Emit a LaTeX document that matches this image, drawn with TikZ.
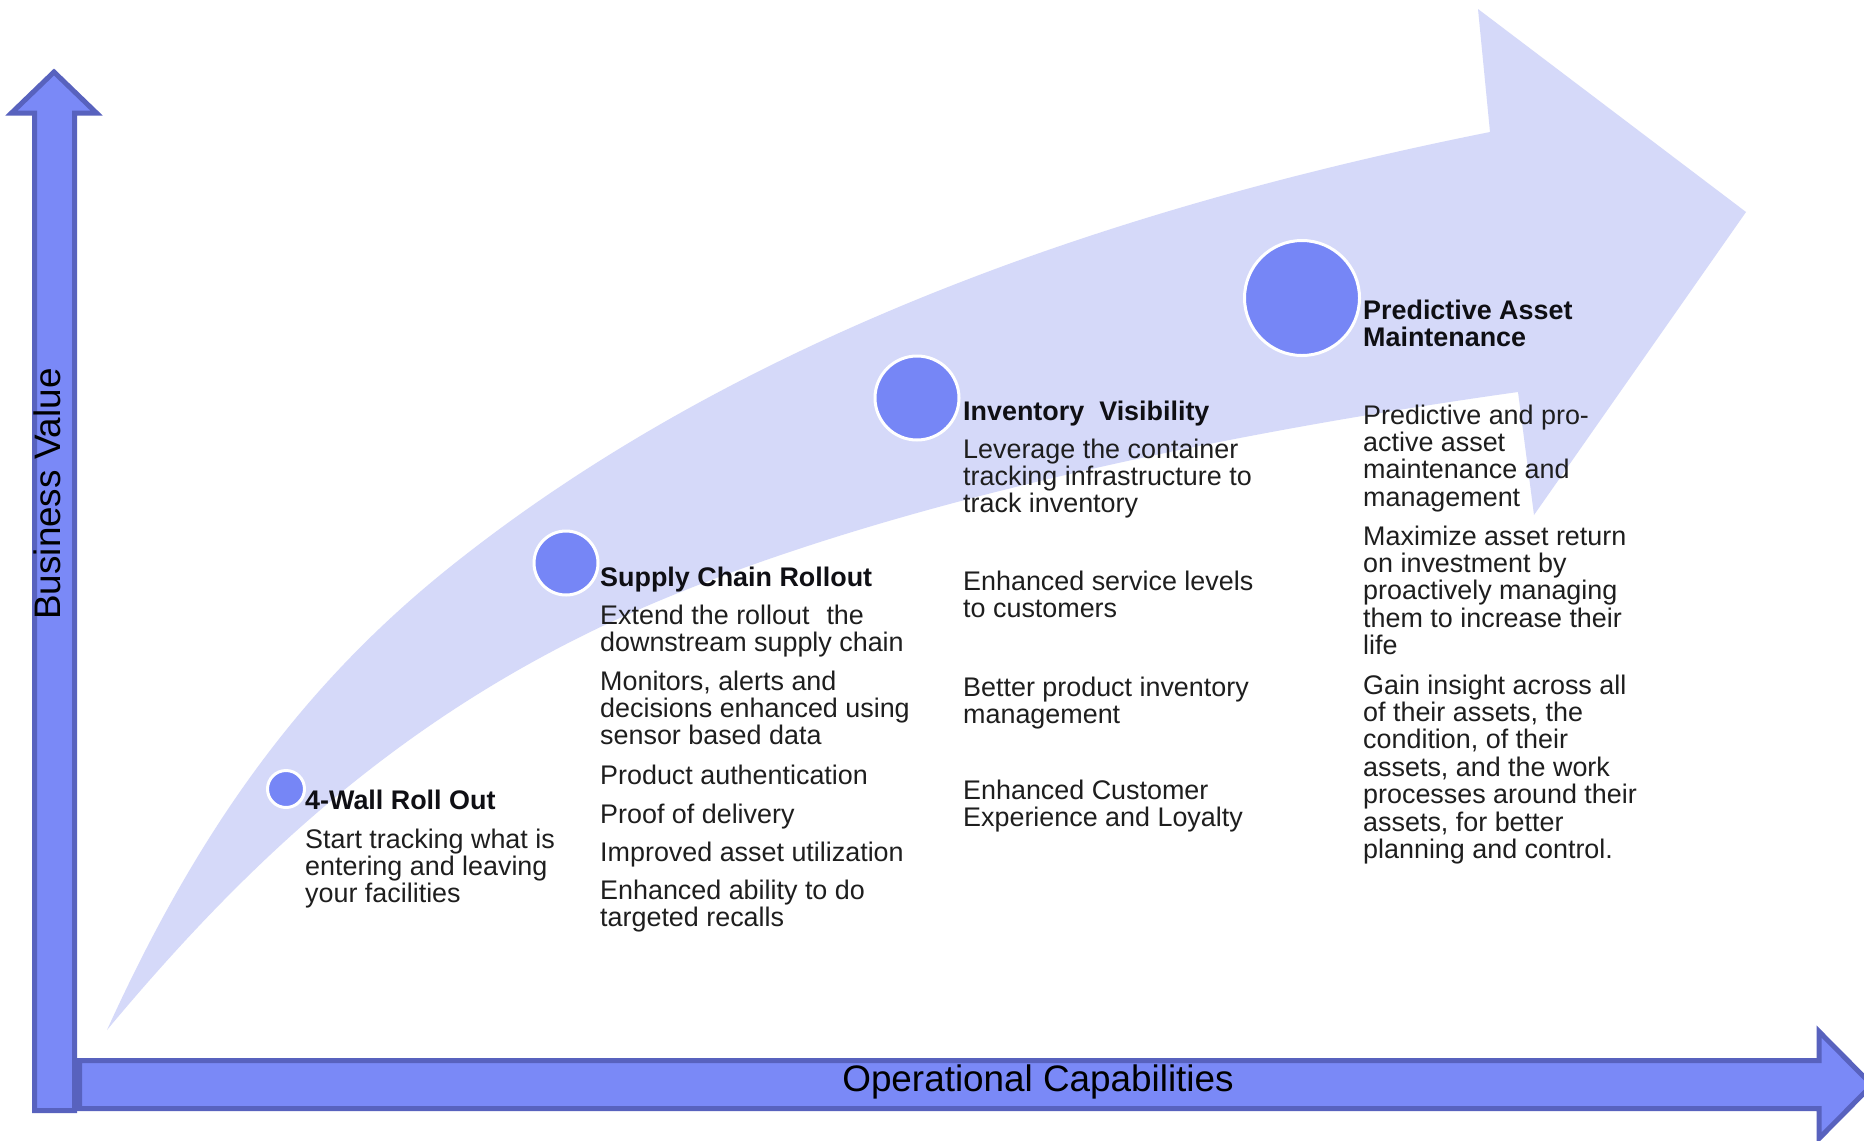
\documentclass[tikz,border=0pt]{standalone}
\usepackage{fontspec}
\setmainfont{Liberation Sans}
\definecolor{lavfill}{RGB}{213,217,249}
\definecolor{dotfill}{RGB}{118,134,246}
\definecolor{axisfill}{RGB}{122,137,247}
\definecolor{axisline}{RGB}{88,98,190}
\definecolor{bodytext}{RGB}{30,30,30}
\definecolor{headtext}{RGB}{15,15,20}
\newcommand\firststrut{\rule{0pt}{20pt}}
\tikzset{
  bigarrow/.style={fill=lavfill},
  axisarrow/.style={fill=axisfill, draw=axisline, line width=5bp, line join=miter},
  milestone/.style={circle, fill=dotfill, draw=white, line width=3bp, inner sep=0pt},
  body/.style={anchor=north west, inner sep=0pt, align=left, text=bodytext,
    font=\fontsize{27}{27.5}\selectfont},
  heading/.style={anchor=north west, inner sep=0pt, align=left, text=headtext,
    font=\fontsize{27}{27.5}\selectfont\bfseries},
  axislabel/.style={inner sep=0pt, text=black, font=\fontsize{37}{40}\selectfont},
}
\begin{document}
\begin{tikzpicture}[x=1bp,y=-1bp]
\useasboundingbox (0,0) rectangle (1864,1140);
\fill[white] (0,0) rectangle (1864,1140);
\clip (0,0) rectangle (1864,1140);

% big curved arrow
\coordinate (tail) at (107,1030);
\coordinate (umid) at (450,567);
\coordinate (utop) at (1490,132);
\coordinate (hdtop) at (1478,9);
\coordinate (hdtip) at (1746,212);
\coordinate (hdbot) at (1534,515);
\coordinate (lbot) at (1518,392);
\coordinate (lmid) at (580,637);
\fill[bigarrow]
  (tail) .. controls (197,832) and (300,687) .. (umid)
         .. controls (750,327) and (1140,202) .. (utop)
  -- (hdtop) -- (hdtip) -- (hdbot) -- (lbot)
         .. controls (1218,434) and (830,512) .. (lmid)
         .. controls (380,737) and (237,874) .. (tail)
  -- cycle;

% axes
\draw[axisarrow] (34.5,1110.5) -- (34.5,113) -- (11.5,113) -- (54,72) -- (96.5,113) -- (74.5,113) -- (74.5,1110.5) -- cycle;
\draw[axisarrow] (79.5,1060.5) -- (1819,1060.5) -- (1819,1031.5) -- (1872,1085) -- (1819,1138.5) -- (1819,1108.5) -- (79.5,1108.5) -- cycle;
\node[axislabel] (xlabel) at (1038,1082) {Operational Capabilities};
\node[axislabel, rotate=90] (ylabel) at (47,494) {Business Value};

% milestones
\node[milestone, minimum size=37bp] (m1) at (286,789) {};
\node[milestone, minimum size=64bp] (m2) at (566,563) {};
\node[milestone, minimum size=84bp] (m3) at (917,398) {};
\node[milestone, minimum size=115bp] (m4) at (1302,298) {};

% block 1
\node[heading] (h1) at (305,789) {\firststrut 4-Wall Roll Out};
\node[body] (p1) at (305,828) {\firststrut Start tracking what is\\entering and leaving\\your facilities};

% block 2
\node[heading] (h2) at (600,566) {\firststrut Supply Chain Rollout};
\node[body] (p2a) at (600,604) {\firststrut Extend the rollout\hspace{17bp}the\\downstream supply chain};
\node[body] (p2b) at (600,670) {\firststrut Monitors, alerts and\\decisions enhanced using\\sensor based data};
\node[body] (p2c) at (600,764) {\firststrut Product authentication};
\node[body] (p2d) at (600,803) {\firststrut Proof of delivery};
\node[body] (p2e) at (600,841) {\firststrut Improved asset utilization};
\node[body] (p2f) at (600,879) {\firststrut Enhanced ability to do\\targeted recalls};

% block 3
\node[heading] (h3) at (963,400) {\firststrut Inventory\hspace{15bp}Visibility};
\node[body] (p3a) at (963,438) {\firststrut Leverage the container\\tracking infrastructure to\\track inventory};
\node[body] (p3b) at (963,570) {\firststrut Enhanced service levels\\to customers};
\node[body] (p3c) at (963,676) {\firststrut Better product inventory\\management};
\node[body] (p3d) at (963,779) {\firststrut Enhanced Customer\\Experience and Loyalty};

% block 4
\node[heading] (h4) at (1363,299) {\firststrut Predictive Asset\\Maintenance};
\node[body] (p4a) at (1363,404) {\firststrut Predictive and pro-\\active asset\\maintenance and\\management};
\node[body] (p4b) at (1363,525) {\firststrut Maximize asset return\\on investment by\\proactively managing\\them to increase their\\life};
\node[body] (p4c) at (1363,674) {\firststrut Gain insight across all\\of their assets, the\\condition, of their\\assets, and the work\\processes around their\\assets, for better\\planning and control.};
\end{tikzpicture}
\end{document}
